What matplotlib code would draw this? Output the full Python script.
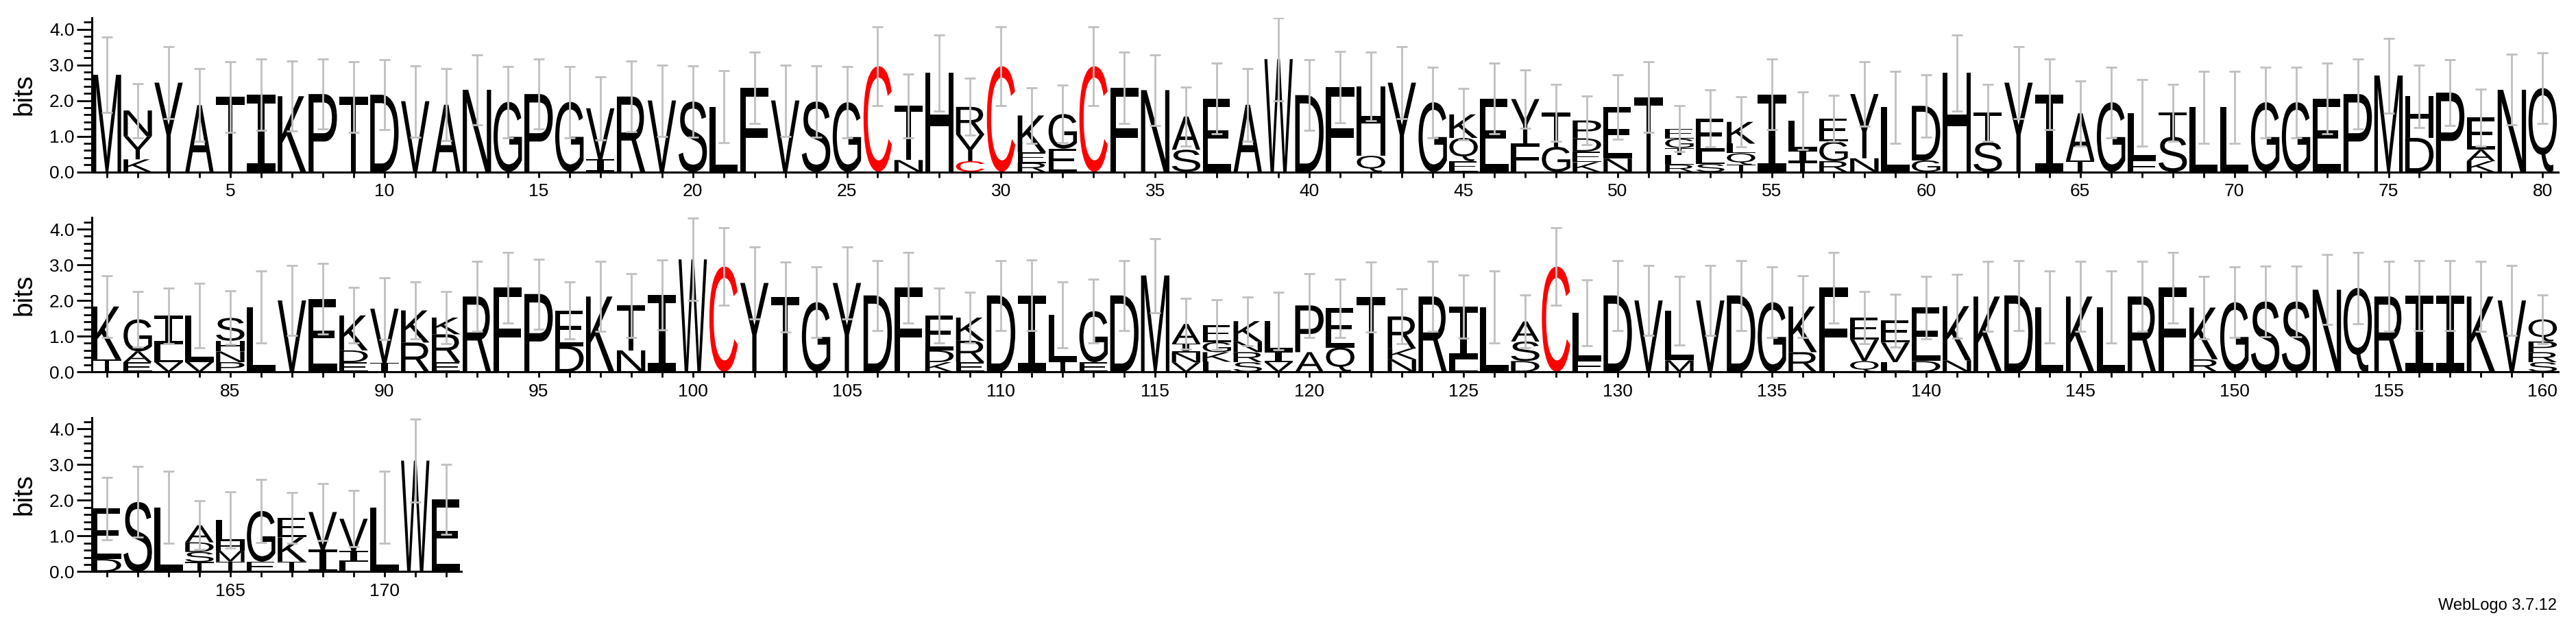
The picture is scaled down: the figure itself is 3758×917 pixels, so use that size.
import matplotlib
matplotlib.use("Agg")
import matplotlib.pyplot as plt
from matplotlib.textpath import TextPath
from matplotlib.patches import PathPatch
from matplotlib.font_manager import FontProperties
from matplotlib.transforms import Affine2D
from matplotlib.ticker import MultipleLocator, FormatStrFormatter

# letters of every stack, bottom -> top, positions 1..172
stack_letters = [
    "M", "KYN", "Y", "A", "T", "I", "K", "P", "T", "D",
    "V", "A", "N", "G", "P", "G", "IV", "R", "V", "S",
    "L", "F", "V", "S", "G", "C", "NT", "H", "CYR", "C",
    "REK", "EG", "C", "F", "N", "SA", "E", "A", "W", "D",
    "F", "QH", "Y", "G", "EQK", "E", "FY", "GT", "KEDP", "NE",
    "T", "RLTGE", "SLE", "TQLK", "I", "TIL", "RGE", "NY", "L", "GD",
    "H", "ST", "Y", "I", "TA", "G", "FL", "ST", "L", "L",
    "G", "G", "E", "P", "M", "DH", "P", "KAE", "N", "Q",
    "TK", "EAG", "VLI", "VL", "PNHS", "L", "V", "E", "EDK", "IV",
    "RK", "ERK", "R", "F", "P", "DE", "K", "NT", "I", "W",
    "C", "Y", "T", "G", "Y", "D", "F", "KDE", "ERK", "D",
    "I", "TL", "EG", "D", "M", "VNIA", "LKGE", "SRNK", "VIL", "AP",
    "QE", "T", "NKR", "R", "LI", "L", "DSA", "C", "FL", "D",
    "V", "ML", "V", "D", "G", "RK", "F", "QVE", "LVE", "DE",
    "NK", "K", "D", "L", "K", "L", "R", "F", "RK", "G",
    "S", "S", "N", "Q", "R", "I", "I", "K", "V", "SRPQ",
    "DE", "S", "L", "TSDA", "TMHL", "EG", "TKE", "IV", "LIV", "L", "W", "E",
]

# heights in bits, same order as the letters
stack_heights = [
    [2.72], [0.35, 0.65, 0.72], [2.50], [1.87], [2.10], [2.16], [2.12], [2.18], [2.10], [2.16],
    [1.98], [1.88], [2.30], [1.96], [2.18], [1.96], [0.35, 1.43], [2.11], [2.00], [1.97],
    [1.82], [2.36], [2.00], [1.97], [1.95], [2.96], [0.33, 1.52], [2.77], [0.30, 0.75, 0.77], [2.96],
    [0.25, 0.30, 1.03], [0.65, 0.97], [2.96], [2.36], [2.29], [0.62, 0.93], [2.05], [1.88], [3.16], [2.15],
    [2.37], [0.45, 1.95], [2.50], [1.95], [0.30, 0.65, 0.66], [2.05], [0.80, 1.24], [0.70, 0.96],
    [0.27, 0.30, 0.37, 0.50], [0.37, 1.45],
    [2.09], [0.20, 0.27, 0.20, 0.26, 0.28], [0.22, 0.35, 0.93], [0.20, 0.32, 0.27, 0.61], [2.17],
    [0.28, 0.32, 0.84], [0.30, 0.55, 0.65], [0.38, 1.80], [1.81], [0.32, 1.53],
    [2.77], [0.83, 0.83], [2.50], [2.17], [0.32, 1.32], [1.95], [0.33, 1.32], [0.98, 0.68], [1.81], [1.81],
    [1.95], [1.95], [2.05], [2.18], [2.70], [0.95, 1.17], [2.22], [0.30, 0.32, 0.90], [2.30], [2.35],
    [0.35, 1.48], [0.27, 0.30, 0.90], [0.27, 0.50, 0.80], [0.27, 1.31], [0.27, 0.30, 0.30, 0.64],
    [1.81], [2.00], [2.04], [0.27, 0.33, 0.98], [0.25, 1.52],
    [0.82, 0.90], [0.27, 0.78, 0.47], [2.11], [2.36], [2.18], [0.72, 1.00], [2.11], [0.60, 1.26], [2.16], [3.15],
    [2.95], [2.49], [2.09], [1.95], [2.49], [2.14], [2.36], [0.27, 0.33, 0.97], [0.27, 0.60, 0.65], [2.14],
    [2.14], [0.30, 1.30], [0.27, 1.43], [2.14], [2.70], [0.26, 0.28, 0.25, 0.55], [0.28, 0.27, 0.28, 0.48],
    [0.27, 0.28, 0.30, 0.57], [0.27, 0.30, 0.85], [0.55, 1.31],
    [0.68, 1.10], [2.09], [0.35, 0.30, 0.90], [2.11], [0.35, 1.48], [1.81], [0.30, 0.55, 0.56], [2.95],
    [0.32, 1.33], [2.14],
    [2.00], [0.32, 1.39], [2.00], [2.14], [1.95], [0.55, 1.28], [2.36], [0.30, 0.60, 0.62], [0.27, 0.55, 0.62],
    [0.30, 1.50],
    [0.32, 1.52], [2.11], [2.14], [1.81], [2.11], [1.81], [2.11], [2.36], [0.35, 1.45], [1.95],
    [1.97], [1.97], [2.30], [2.35], [2.11], [2.14], [2.14], [2.11], [2.00], [0.27, 0.28, 0.30, 0.62],
    [0.35, 1.42], [1.95], [1.80], [0.27, 0.28, 0.27, 0.48], [0.28, 0.30, 0.27, 0.60], [0.28, 1.42],
    [0.28, 0.68, 0.55], [0.62, 1.05], [0.28, 0.30, 0.90], [1.80], [3.11], [2.02],
]

# half length of the grey error bars (bits)
errors = [
    1.05, 0.76, 1.01, 1.02, 0.99, 1.00, 0.98, 0.98, 0.99, 0.98,
    1.00, 1.01, 0.98, 1.00, 0.98, 1.00, 0.88, 0.99, 1.00, 1.00,
    1.01, 1.00, 1.00, 1.00, 1.00, 1.11, 0.89, 1.07, 0.80, 1.11,
    0.78, 0.81, 1.11, 1.00, 0.99, 0.83, 0.99, 1.02, 1.16, 0.99,
    1.00, 0.96, 1.01, 0.99, 0.72, 0.99, 0.81, 0.80, 0.68, 0.90,
    0.99, 0.65, 0.79, 0.70, 0.99, 0.81, 0.65, 0.91, 1.01, 0.88,
    1.07, 0.80, 1.01, 0.99, 0.91, 0.99, 0.93, 0.80, 1.01, 1.01,
    0.99, 0.99, 0.99, 0.98, 1.05, 0.87, 0.92, 0.79, 0.99, 0.99,
    0.87, 0.78, 0.78, 0.91, 0.75, 1.01, 0.98, 0.99, 0.78, 0.87,
    0.79, 0.73, 0.98, 0.99, 0.98, 0.79, 0.98, 0.89, 0.98, 1.15,
    1.09, 1.01, 0.98, 0.99, 1.01, 0.98, 0.99, 0.77, 0.72, 0.98,
    0.99, 0.92, 0.90, 0.98, 1.04, 0.71, 0.70, 0.68, 0.81, 0.89,
    0.81, 0.98, 0.77, 0.98, 0.89, 1.01, 0.74, 1.09, 0.92, 0.98,
    0.98, 0.96, 0.98, 0.98, 0.99, 0.87, 0.99, 0.73, 0.74, 0.88,
    0.89, 0.98, 0.98, 1.01, 0.98, 1.01, 0.98, 0.99, 0.88, 0.99,
    0.99, 0.99, 0.98, 1.00, 0.98, 0.98, 0.98, 0.98, 0.98, 0.68,
    0.87, 0.99, 1.01, 0.68, 0.79, 0.89, 0.71, 0.79, 0.79, 1.01, 1.16, 0.98,
]

row_first = [1, 81, 161]
row_last = [80, 160, 172]

# layout in pixels of the 3758 x 917 picture
W, H = 3758, 917
col_px = 44.98
left_px = 133.5
base_px = [250.5, 542.0, 833.3]
ymax = 4.32
height_px = ymax * 52.0

fp_letter = FontProperties(family=["Liberation Sans", "DejaVu Sans"], weight="normal")
fp_i = FontProperties(family=["DejaVu Sans Mono"], weight="normal")
glyphs = {}


def glyph(ch):
    if ch not in glyphs:
        glyphs[ch] = TextPath((0, 0), ch, size=1, prop=fp_i if ch == "I" else fp_letter)
    return glyphs[ch]


def draw_letter(ax, ch, x, y0, h, w=0.92):
    tp = glyph(ch)
    bb = tp.get_extents()
    tr = (Affine2D().translate(-bb.x0, -bb.y0)
          .scale(w / bb.width, h / bb.height)
          .translate(x - w / 2, y0))
    color = "#ff0000" if ch == "C" else "black"
    ax.add_patch(PathPatch(tr.transform_path(tp), fc=color, ec="none", lw=0, zorder=2))


fig = plt.figure(figsize=(W / 100, H / 100), dpi=100)

for r in range(3):
    a, b = row_first[r], row_last[r]
    n = b - a + 1
    ax = fig.add_axes([left_px / W, 1 - base_px[r] / H, n * col_px / W, height_px / H])
    ax.set_xlim(a - 0.5, b + 0.5)
    ax.set_ylim(0, ymax)

    xs, tops, errs = [], [], []
    for p in range(a, b + 1):
        y = 0.0
        for ch, h in zip(stack_letters[p - 1], stack_heights[p - 1]):
            draw_letter(ax, ch, p, y, h)
            y += h
        xs.append(p)
        tops.append(y)
        errs.append(errors[p - 1])
    ax.errorbar(xs, tops, yerr=errs, fmt="none", ecolor="#c0c0c0",
                elinewidth=2.0, capsize=6, capthick=2.0, zorder=5)

    for s in ["top", "right"]:
        ax.spines[s].set_visible(False)
    ax.spines["bottom"].set_linewidth(2.2)
    ax.spines["left"].set_linewidth(2.2)

    ax.xaxis.set_major_locator(MultipleLocator(5))
    ax.xaxis.set_minor_locator(MultipleLocator(1))
    ax.yaxis.set_major_locator(MultipleLocator(1))
    ax.yaxis.set_minor_locator(MultipleLocator(0.2))
    ax.yaxis.set_major_formatter(FormatStrFormatter("%.1f"))
    ax.tick_params(axis="x", which="both", direction="out", length=6, width=2.0, pad=6,
                   labelsize=19)
    ax.tick_params(axis="y", which="major", direction="out", length=16, width=2.0, pad=2,
                   labelsize=19)
    ax.tick_params(axis="y", which="minor", direction="out", length=8.5, width=2.0)
    for lab in ax.get_xticklabels() + ax.get_yticklabels():
        lab.set_family("Liberation Sans")

    fig.text(35 / W, 1 - (base_px[r] - height_px / 2) / H, "bits", rotation=90,
             ha="center", va="center", fontsize=28, family="Liberation Sans")

fig.text(3730 / W, 1 - 883 / H, "WebLogo 3.7.12", ha="right", va="center",
         fontsize=17, family="Liberation Sans")

fig.savefig("out.png", dpi=100)
